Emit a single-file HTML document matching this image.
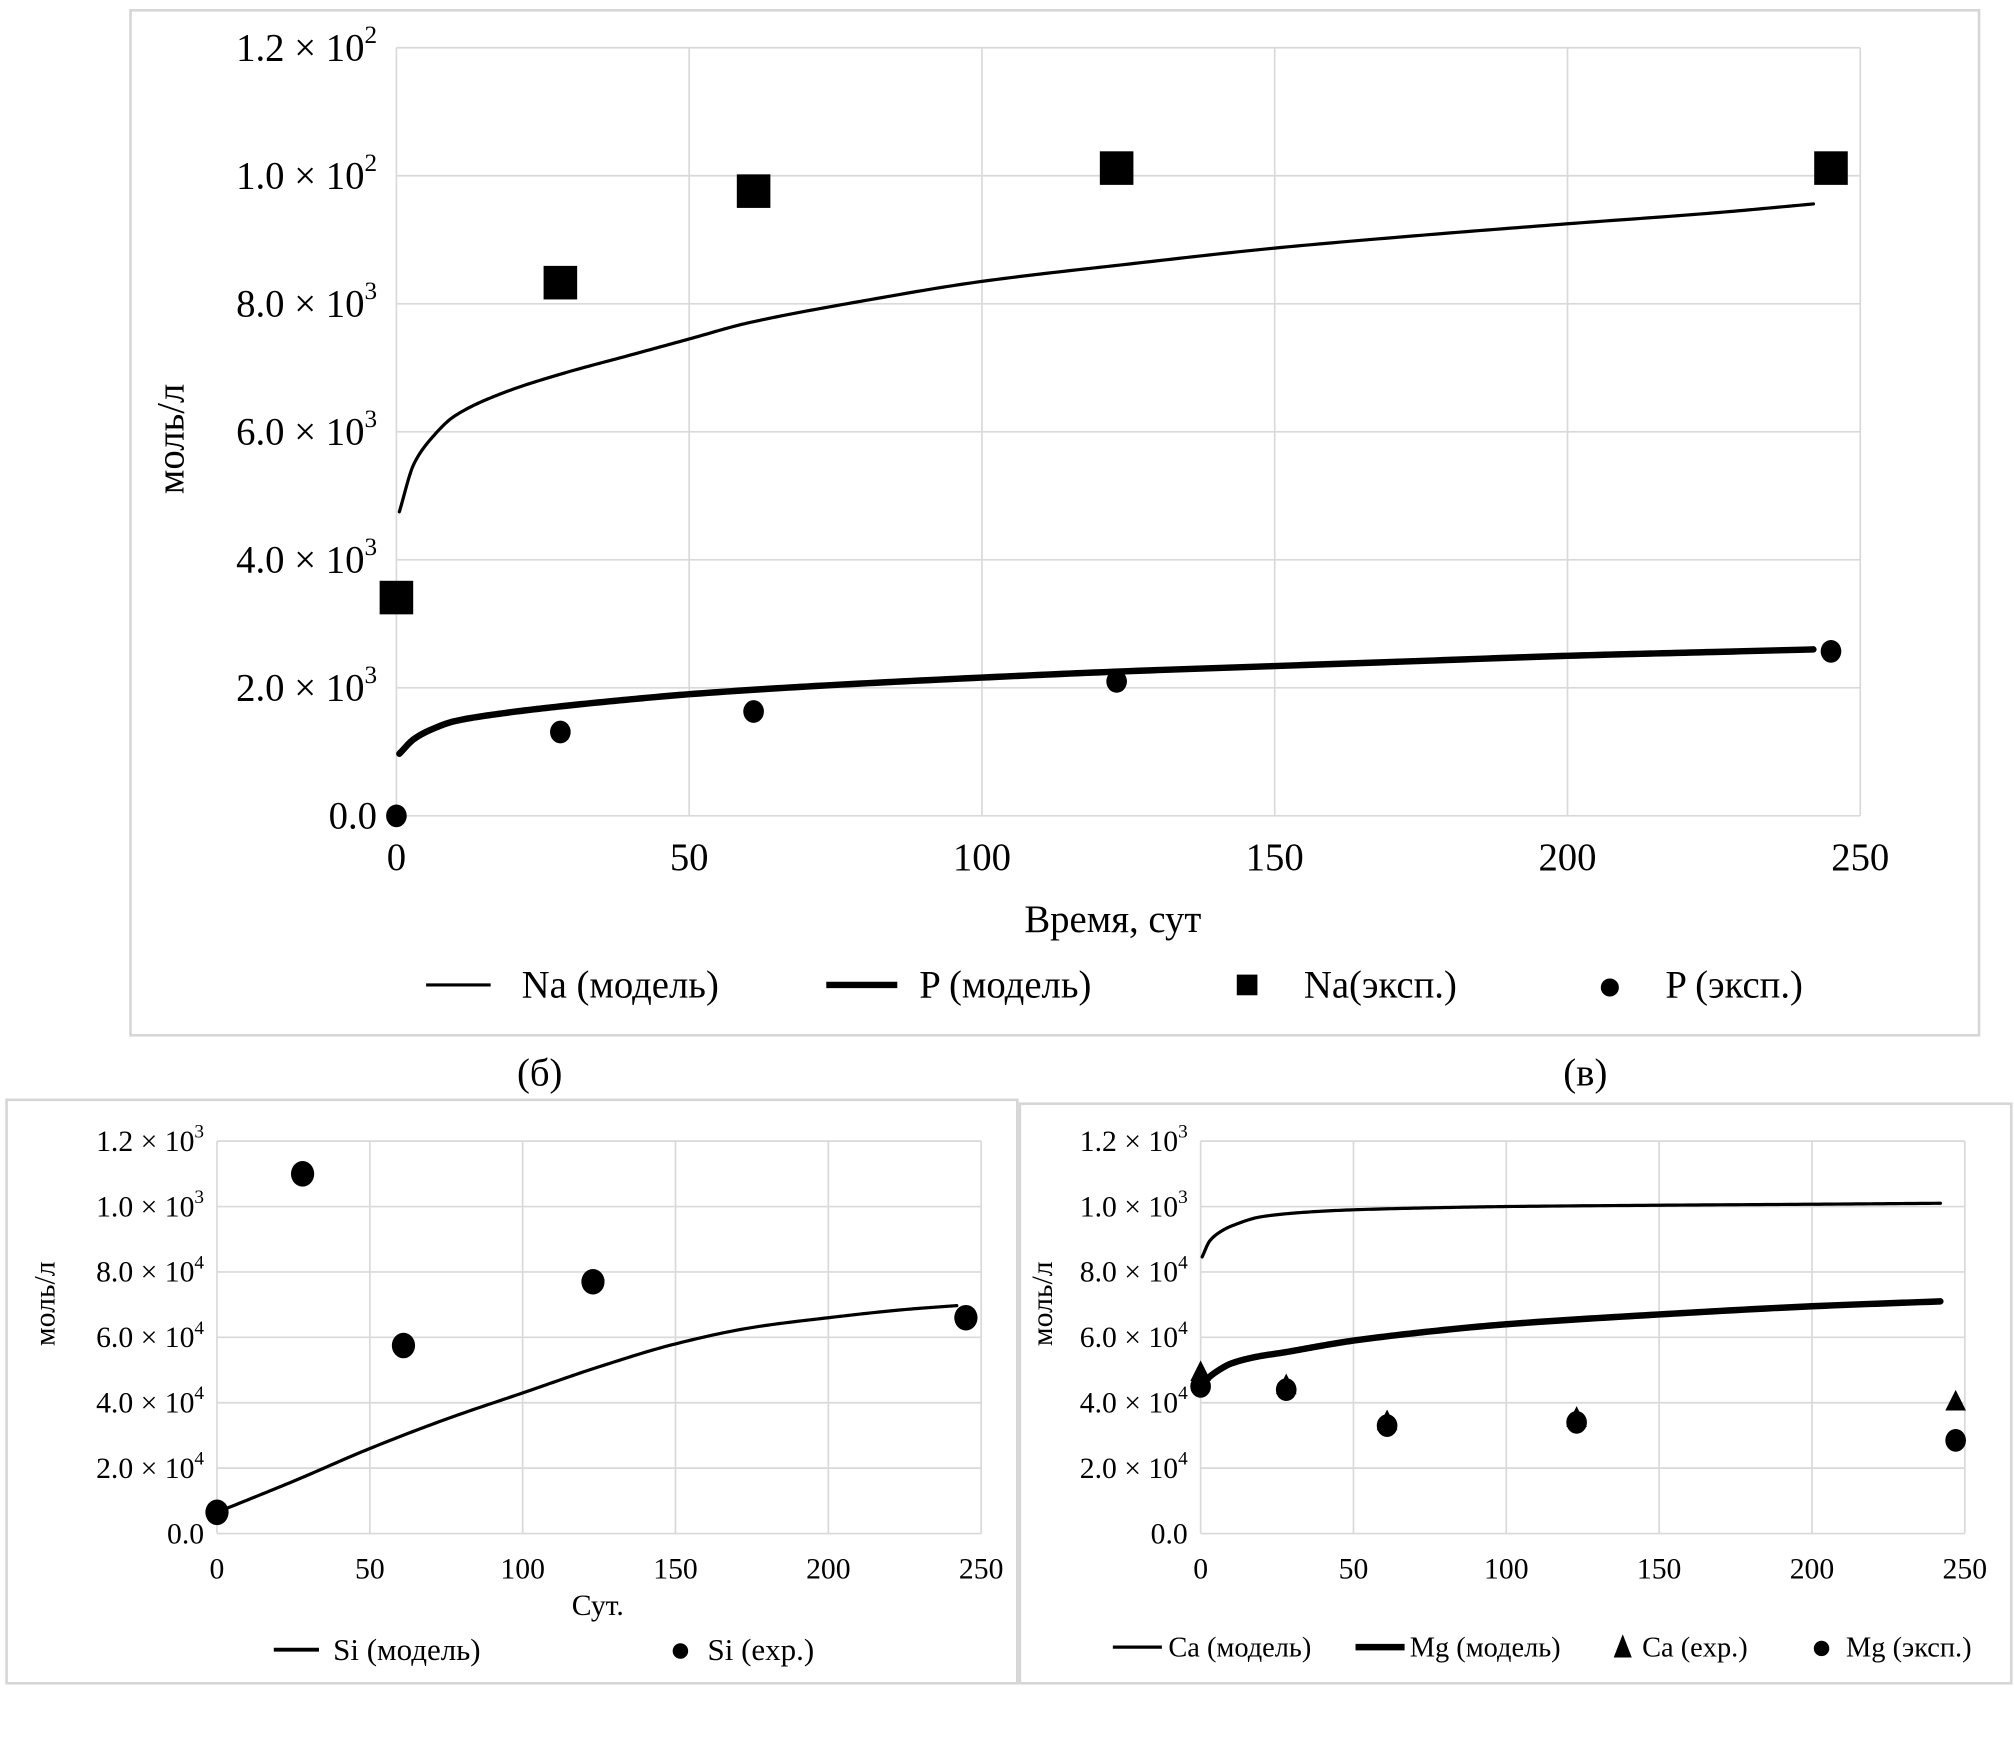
<!DOCTYPE html>
<html><head><meta charset="utf-8"><style>
html,body{margin:0;padding:0;background:#fff}
svg{display:block}
text{font-family:"Liberation Serif",serif;fill:#000}
</style></head><body>
<svg id="fig" width="2014" height="1753" viewBox="0 0 1560 1358" xmlns="http://www.w3.org/2000/svg"></svg>
<script>
// ---- data: top chart (Na, P) ----
const naModelX=[0.5,3,6,10,18,28,40,50,60,80,100,125,150,175,200,225,242];
const naModelY=[4.75,5.5,5.9,6.25,6.6,6.9,7.2,7.45,7.7,8.05,8.35,8.62,8.87,9.07,9.25,9.42,9.56];
const pModelX=[0.5,3,6,10,18,28,40,50,70,100,125,150,175,200,225,242];
const pModelY=[0.97,1.2,1.35,1.48,1.6,1.71,1.82,1.9,2.02,2.16,2.26,2.34,2.42,2.5,2.56,2.6];
const naExpX=[0,28,61,123,245];
const naExpY=[3.41,8.33,9.76,10.12,10.12];
const pExpX=[0,28,61,123,245];
const pExpY=[0,1.31,1.63,2.1,2.57];
// ---- data: bottom-left (Si) ----
const siModelX=[0,25,50,75,100,125,150,175,200,225,242];
const siModelY=[0.65,1.6,2.6,3.5,4.3,5.1,5.8,6.3,6.6,6.85,6.97];
const siExpX=[0,28,61,123,245];
const siExpY=[0.65,11.0,5.75,7.7,6.6];
// ---- data: bottom-right (Ca, Mg) ----
const caModelX=[0.5,3,6,10,20,35,50,75,100,150,200,242];
const caModelY=[8.46,8.95,9.2,9.4,9.69,9.83,9.9,9.96,10.0,10.04,10.07,10.1];
const mgModelX=[0.5,3,6,10,18,28,40,50,75,100,150,200,242];
const mgModelY=[4.57,4.8,5.0,5.2,5.4,5.55,5.75,5.9,6.18,6.4,6.7,6.95,7.1];
const caExpX=[0,28,61,123,247];
const caExpY=[4.9,4.5,3.4,3.5,4.0];
const mgExpX=[0,28,61,123,247];
const mgExpY=[4.5,4.4,3.3,3.4,2.85];
// ---- tick labels ----
const xTicks=[0,50,100,150,200,250];
const yTickVals=[0,2,4,6,8,10,12];
const yTickMant=["0.0","2.0","4.0","6.0","8.0","1.0","1.2"];
const yTickExpTop=["","3","3","3","3","2","2"];
const yTickExpBot=["","4","4","4","4","3","3"];

const NS="http://www.w3.org/2000/svg";
const svg=document.getElementById('fig');
function mk(tag,attrs,parent){const e=document.createElementNS(NS,tag);for(const k in attrs)e.setAttribute(k,attrs[k]);(parent||svg).appendChild(e);return e;}

function chart(o){
  const g=mk('g',{});
  
  
  const sx=v=>o.x0+(o.x1-o.x0)*v/250;
  const sy=v=>o.y0+(o.y1-o.y0)*v/12;
  const fr=mk('rect',{x:o.box[0],y:o.box[1],width:o.box[2],height:o.box[3],fill:'none',stroke:'#d6d6d6','stroke-width':2},g);
  
  
  xTicks.forEach(t=>{
    const l=mk('line',{x1:sx(t),x2:sx(t),y1:sy(0),y2:sy(12),stroke:'#d9d9d9','stroke-width':1.3},g);
    
    
    const tx=mk('text',{x:sx(t),y:o.xLabY,'text-anchor':'middle','font-size':o.fs},g);
    tx.textContent=t;
    
    
  });
  yTickVals.forEach((t,i)=>{
    const l=mk('line',{x1:sx(0),x2:sx(250),y1:sy(t),y2:sy(t),stroke:'#d9d9d9','stroke-width':1.3},g);
    
    
    const tx=mk('text',{x:o.yLabX,y:sy(t)+o.fs*0.33,'text-anchor':'end','font-size':o.fs},g);
    
    
    const ex=o.exps[i];
    if(ex){
      const a=mk('tspan',{},tx);a.textContent=yTickMant[i]+" × 10";
      const b=mk('tspan',{dy:-o.fs*0.45,'font-size':o.fs*0.65},tx);b.textContent=ex;
    } else {tx.textContent=yTickMant[i];}
  });
  const xt=mk('text',{x:o.xTitle[0],y:o.xTitle[1],'text-anchor':'middle','font-size':o.fs},g);
  xt.textContent=o.xTitleText;
  
  
  const yt=mk('text',{x:0,y:0,'text-anchor':'middle','font-size':o.fs,transform:`translate(${o.yTitle[0]},${o.yTitle[1]}) rotate(-90)`},g);
  yt.textContent='моль/л';
  
  
  return {g,sx,sy};
}
// monotone cubic (Fritsch–Carlson) in data space, sampled densely
function curve(c,xs,ys,w,name){
  const n=xs.length,d=[],m=new Array(n);
  for(let i=0;i<n-1;i++)d.push((ys[i+1]-ys[i])/(xs[i+1]-xs[i]));
  m[0]=d[0];m[n-1]=d[n-2];
  for(let i=1;i<n-1;i++){m[i]=(d[i-1]*d[i]<=0)?0:(2/(1/d[i-1]+1/d[i]));}
  let path='';
  for(let i=0;i<n-1;i++){
    const h=xs[i+1]-xs[i];
    for(let k=0;k<=20;k++){
      const t=k/20,t2=t*t,t3=t2*t;
      const y=(2*t3-3*t2+1)*ys[i]+(t3-2*t2+t)*h*m[i]+(-2*t3+3*t2)*ys[i+1]+(t3-t2)*h*m[i+1];
      const x=xs[i]+t*h;
      path+=(path?' L':'M')+c.sx(x).toFixed(2)+','+c.sy(y).toFixed(2);
    }
  }
  const e=mk('path',{d:path,fill:'none',stroke:'#000','stroke-width':w,'stroke-linecap':'round','stroke-linejoin':'round'},c.g);
  
  
}
function marks(c,xs,ys,type,s,name){
  xs.forEach((x,i)=>{
    const X=c.sx(x),Y=c.sy(ys[i]);let e;
    if(type==='sq') e=mk('rect',{x:X-s/2,y:Y-s/2,width:s,height:s,fill:'#000'},c.g);
    else if(type==='tri') e=mk('polygon',{points:`${X},${Y-s} ${X-s*0.8},${Y+s*0.6} ${X+s*0.8},${Y+s*0.6}`,fill:'#000'},c.g);
    else e=mk('ellipse',{cx:X,cy:Y,rx:s,ry:s*1.1,fill:'#000'},c.g);
    
    
  });
}
function legendLine(x1,x2,y,w,name){const e=mk('line',{x1,x2,y1:y,y2:y,stroke:'#000','stroke-width':w});}
function legendText(x,y,fs,t,name){const e=mk('text',{x,y:y+fs*0.33,'font-size':fs});e.textContent=t;}

// top chart
const topC=chart({name:'na-p-chart',box:[101,8,1432,794],x0:307,x1:1441,y0:632,y1:37,fs:30,yLabX:292,xLabY:674,exps:yTickExpTop,xTitle:[862,722],xTitleText:'Время, сут',yTitle:[142,340]});
curve(topC,naModelX,naModelY,2.5,'na-model-line');
curve(topC,pModelX,pModelY,5,'p-model-line');
marks(topC,naExpX,naExpY,'sq',26,'na-exp-marker');
marks(topC,pExpX,pExpY,'c',8,'p-exp-marker');
legendLine(330,380,763,2.5,'legend-na-model-swatch');legendText(404,763,30,'Na (модель)','legend-na-model');
legendLine(640,695,763,5,'legend-p-model-swatch');legendText(712,763,30,'P (модель)','legend-p-model');
{const e=mk('rect',{x:958,y:755,width:16,height:16,fill:'#000'});}
legendText(1010,763,30,'Na(эксп.)','legend-na-exp');
{const e=mk('circle',{cx:1247,cy:765,r:7,fill:'#000'});}
legendText(1290,763,30,'P (эксп.)','legend-p-exp');
{const e=mk('text',{x:418,y:841,'text-anchor':'middle','font-size':30});e.textContent='(б)';}
{const e=mk('text',{x:1228,y:841,'text-anchor':'middle','font-size':30});e.textContent='(в)';}

// bottom-left chart
const blC=chart({name:'si-chart',box:[5,852,783,452],x0:168,x1:760,y0:1188,y1:884,fs:23,yLabX:158,xLabY:1223,exps:yTickExpBot,xTitle:[463,1251],xTitleText:'Сут.',yTitle:[42,1010]});
curve(blC,siModelX,siModelY,2.5,'si-model-line');
marks(blC,siExpX,siExpY,'c',9,'si-exp-marker');
legendLine(212,247,1278,3,'legend-si-model-swatch');legendText(258,1278,24,'Si (модель)','legend-si-model');
{const e=mk('circle',{cx:527,cy:1279,r:6,fill:'#000'});}
legendText(548,1278,24,'Si (exp.)','legend-si-exp');

// bottom-right chart
const brC=chart({name:'ca-mg-chart',box:[790,855,768,449],x0:930,x1:1522,y0:1188,y1:884,fs:23,yLabX:920,xLabY:1223,exps:yTickExpBot,xTitle:[1226,1400],xTitleText:'',yTitle:[815,1010]});
curve(brC,caModelX,caModelY,2.5,'ca-model-line');
curve(brC,mgModelX,mgModelY,5,'mg-model-line');
marks(brC,caExpX,caExpY,'tri',10,'ca-exp-marker');
marks(brC,mgExpX,mgExpY,'c',8,'mg-exp-marker');
legendLine(862,900,1276,2.5,'legend-ca-model-swatch');legendText(905,1276,22,'Ca (модель)','legend-ca-model');
legendLine(1050,1088,1276,5,'legend-mg-model-swatch');legendText(1092,1276,22,'Mg (модель)','legend-mg-model');
{const e=mk('polygon',{points:'1257,1266 1250,1284 1264,1284',fill:'#000'});}
legendText(1272,1276,22,'Ca (exp.)','legend-ca-exp');
{const e=mk('circle',{cx:1411,cy:1277,r:6,fill:'#000'});}
legendText(1430,1276,22,'Mg (эксп.)','legend-mg-exp');
</script>
</body></html>
